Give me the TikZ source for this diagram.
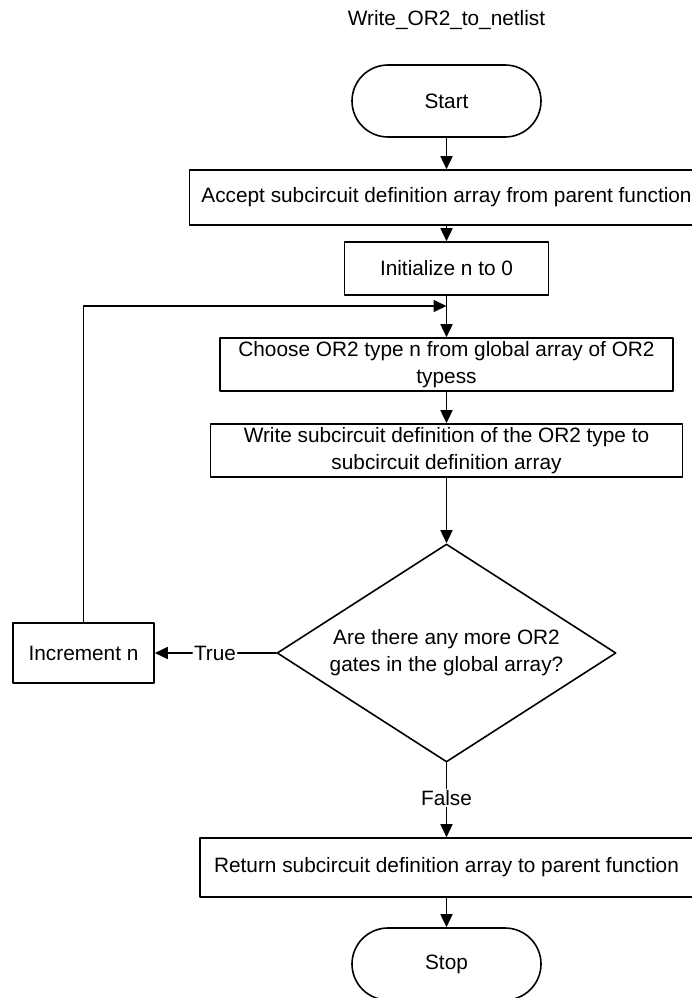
\documentclass[tikz,border=0pt]{standalone}
\usepackage{fontspec}
\setmainfont{Liberation Sans}
\usetikzlibrary{shapes.geometric,arrows.meta}
\begin{document}
\begin{tikzpicture}[x=1pt,y=-1pt,line cap=round,line join=round,>={Triangle[length=13pt,width=12pt]},font=\fontsize{20.8}{27}\selectfont,line width=1.6pt,
	hop/.style={draw,inner sep=0pt,align=center},
	dau/.style={draw,rounded corners=36pt,minimum width=189pt,minimum height=72pt},
	hoi/.style={draw,shape=diamond,aspect=1.55,inner sep=0pt,align=center,minimum width=339pt,minimum height=218pt},
	nhan/.style={inner sep=1pt}]
	\useasboundingbox (0,0) rectangle (692,998);
	\node (title) at (446.5,20) {Write\_OR2\_to\_netlist};
	\node[dau] (start) at (446.5,101) {Start};
	\node[hop,minimum width=514pt,minimum height=55pt] (accept) at (446.5,197.5) {Accept subcircuit definition array from parent function};
	\node[hop,minimum width=204pt,minimum height=53pt] (init) at (446.5,268.5) {Initialize n to 0};
	\node[hop,minimum width=453pt,minimum height=53pt] (choose) at (446.5,364.5) {Choose OR2 type n from global array of OR2\\typess};
	\node[hop,minimum width=472pt,minimum height=53pt] (write) at (446.5,450.5) {Write subcircuit definition of the OR2 type to\\subcircuit definition array};
	\node[hoi] (ask) at (446.5,653) {Are there any more OR2\\gates in the global array?};
	\node[hop,minimum width=141pt,minimum height=60pt] (inc) at (83.5,653) {Increment n};
	\node[nhan] (true) at (215,653) {True};
	\node[nhan] (false) at (446.5,798) {False};
	\node[hop,minimum width=493pt,minimum height=59pt] (ret) at (446.5,867.5) {Return subcircuit definition array to parent function};
	\node[dau] (stop) at (446.5,964) {Stop};
	\coordinate (join) at (446.5,306);
	\foreach \a/\b in {start/accept,accept/init,init/choose,choose/write,write/ask,false/ret,ret/stop}{
		\draw[->] (\a)--(\b);}
	\draw (ask)--(true);
	\draw[->] (true)--(inc);
	\draw (ask)--(false);
	\draw[->] (inc) |- (join);
\end{tikzpicture}
\end{document}
